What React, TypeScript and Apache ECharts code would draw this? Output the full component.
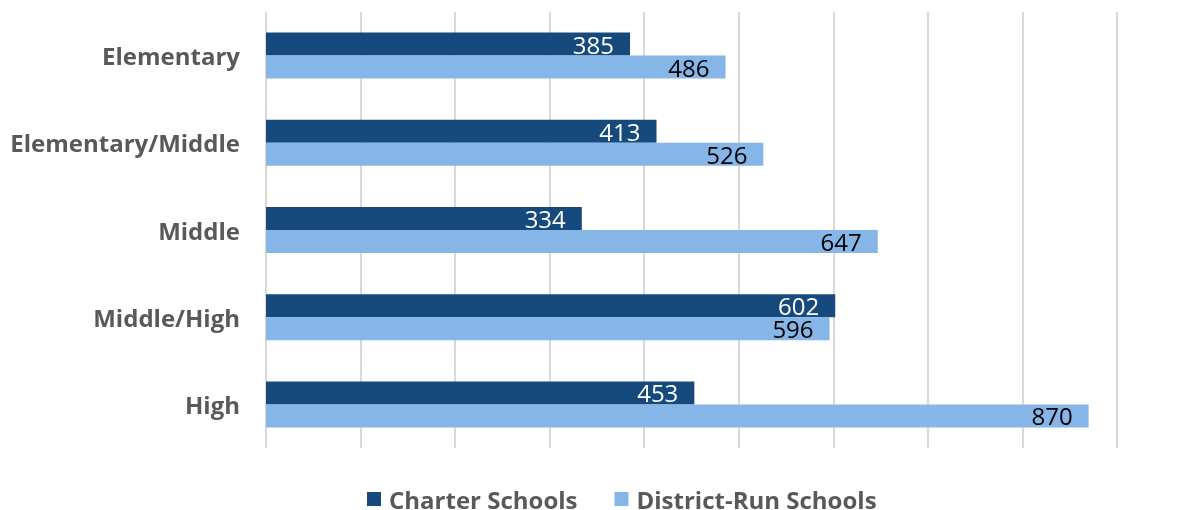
import React, { useEffect, useRef } from "react";
import * as echarts from "echarts";

const categories = ["Elementary", "Elementary/Middle", "Middle", "Middle/High", "High"];
const charterValues = [385, 413, 334, 602, 453];
const districtValues = [486, 526, 647, 596, 870];
const seriesNames = ["Charter Schools", "District-Run Schools"];

export default function App() {
  const ref = useRef<HTMLDivElement>(null);
  useEffect(() => {
    if (!ref.current) return;
    const chart = echarts.init(ref.current, null, { renderer: "svg" });
    const font = "'Open Sans', 'Noto Sans', sans-serif";
    chart.setOption({
      animation: false,
      textStyle: { fontFamily: font },
      grid: { left: 266, right: 85, top: 12, bottom: 62, containLabel: false },
      legend: {
        data: seriesNames,
        left: 362,
        top: 482,
        icon: "rect",
        itemWidth: 14,
        itemHeight: 14,
        itemGap: 37,
        textStyle: { fontFamily: font, fontSize: 24, fontWeight: "bold", color: "#595959", padding: [0, 0, 0, 3] },
      },
      xAxis: {
        type: "value",
        min: 0,
        max: 900,
        interval: 100,
        axisLabel: { show: false },
        axisLine: { show: false },
        axisTick: { show: false },
        splitLine: { show: true, lineStyle: { color: "#d9d9d9", width: 2 } },
      },
      yAxis: {
        type: "category",
        data: categories,
        inverse: true,
        axisLine: { show: false },
        axisTick: { show: false },
        axisLabel: { margin: 26, fontFamily: font, fontSize: 24, fontWeight: "bold", color: "#595959" },
      },
      series: [
        {
          name: seriesNames[0],
          type: "bar",
          data: charterValues,
          barWidth: 23,
          barGap: "0%",
          itemStyle: { color: "#174a7c" },
          label: { show: true, position: "insideRight", distance: 16, color: "#ffffff", fontSize: 24, fontFamily: font },
        },
        {
          name: seriesNames[1],
          type: "bar",
          data: districtValues,
          barWidth: 23,
          barGap: "0%",
          itemStyle: { color: "#85b6e7" },
          label: { show: true, position: "insideRight", distance: 16, color: "#000000", fontSize: 24, fontFamily: font },
        },
      ],
    });
    return () => chart.dispose();
  }, []);
  return <div ref={ref} style={{ position: "fixed", left: 0, top: 0, width: 1202, height: 510 }} />;
}
